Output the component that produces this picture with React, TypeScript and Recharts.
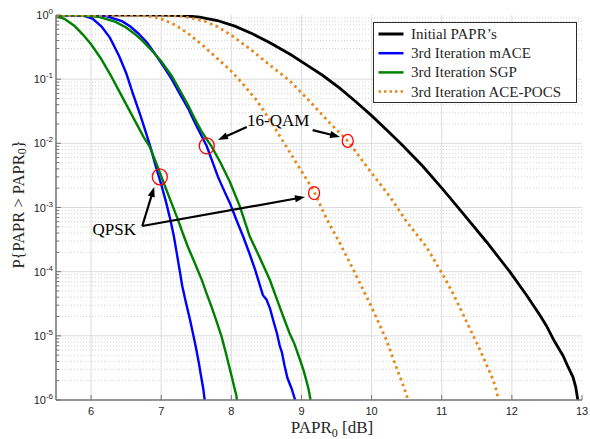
import React from 'react';
import { LineChart, Line, XAxis, YAxis, ReferenceLine, ReferenceDot, Legend } from 'recharts';

type Pt = { x: number; y: number };
const pts = (a: number[][]): Pt[] => a.map(([x, y]) => ({ x, y }));

// ---------- data (x = PAPR0 [dB], y = CCDF) ----------
const initialPapr = pts([[5.5,1],[7.0,0.996],[7.3,0.978],[7.55,0.93],[7.8,0.82],[8.05,0.67],[8.3,0.51],[8.55,0.37],[8.85,0.24],[9.1,0.16],[9.3,0.115],[9.55,0.072],[9.78,0.044],[10.0,0.027],[10.26,0.0145],[10.44,0.0093],[10.73,0.0044],[11.02,0.0019],[11.3,8.2e-4],[11.64,2.9e-4],[11.97,1.0e-4],[12.21,4.3e-5],[12.4,2.1e-5],[12.49,1.45e-5],[12.6,8.5e-6],[12.73,4.9e-6],[12.8,3.3e-6],[12.87,2.3e-6],[12.91,1.6e-6],[12.94,1e-6]]);

const qpskMace = pts([[5.5,1],[5.75,0.995],[5.9,0.97],[6.02,0.88],[6.15,0.66],[6.27,0.44],[6.4,0.23],[6.5,0.125],[6.6,0.058],[6.7,0.028],[6.78,0.015],[6.85,0.0085],[6.92,0.0045],[7.0,0.0023],[7.07,0.0012],[7.13,6.5e-4],[7.18,3.6e-4],[7.22,2.0e-4],[7.26,1.1e-4],[7.3,6.0e-5],[7.35,3.4e-5],[7.41,1.8e-5],[7.46,1.0e-5],[7.5,6.2e-6],[7.54,3.6e-6],[7.57,2.3e-6],[7.6,1.5e-6],[7.62,1e-6]]);

const qpskSgp = pts([[5.5,0.96],[5.62,0.87],[5.76,0.68],[5.88,0.5],[6.0,0.35],[6.14,0.21],[6.28,0.115],[6.4,0.065],[6.52,0.037],[6.64,0.021],[6.75,0.0125],[6.84,0.0087],[6.95,0.0043],[7.05,0.0022],[7.15,0.00115],[7.24,6.4e-4],[7.31,3.9e-4],[7.38,2.45e-4],[7.48,1.35e-4],[7.58,7.4e-5],[7.64,4.8e-5],[7.7,3.2e-5],[7.78,1.8e-5],[7.86,9.8e-6],[7.92,5.5e-6],[7.98,3.0e-6],[8.02,2.0e-6],[8.05,1.45e-6],[8.07,1.2e-6],[8.08,1e-6]]);

const qamMace = pts([[5.5,1],[5.9,0.998],[6.2,0.97],[6.44,0.8],[6.56,0.66],[6.67,0.52],[6.8,0.37],[6.91,0.25],[7.03,0.16],[7.15,0.1],[7.27,0.058],[7.39,0.034],[7.48,0.021],[7.58,0.0128],[7.65,0.009],[7.73,0.0052],[7.81,0.003],[7.9,0.0018],[7.98,0.00117],[8.07,6.5e-4],[8.17,3.5e-4],[8.26,1.9e-4],[8.34,1.07e-4],[8.4,6.5e-5],[8.45,4.3e-5],[8.5,3.7e-5],[8.55,2.7e-5],[8.6,1.7e-5],[8.65,1.1e-5],[8.69,7.0e-6],[8.72,5.6e-6],[8.76,3.4e-6],[8.8,2.2e-6],[8.86,1.5e-6],[8.91,1e-6]]);

const qamSgp = pts([[5.5,1],[5.8,0.995],[6.1,0.94],[6.35,0.78],[6.5,0.64],[6.6,0.53],[6.72,0.41],[6.84,0.3],[7.0,0.19],[7.15,0.112],[7.27,0.066],[7.39,0.038],[7.48,0.024],[7.58,0.015],[7.65,0.0115],[7.72,0.0089],[7.85,0.0049],[7.98,0.0025],[8.12,0.00105],[8.26,3.6e-4],[8.4,1.7e-4],[8.55,7.4e-5],[8.65,3.7e-5],[8.74,2.0e-5],[8.83,1.1e-5],[8.9,7.5e-6],[8.98,4.2e-6],[9.03,2.9e-6],[9.07,2.0e-6],[9.1,1.5e-6],[9.13,1e-6]]);

const qpskAcePocs = pts([[5.5,1],[6.6,0.998],[6.8,0.97],[7.0,0.87],[7.2,0.7],[7.4,0.5],[7.6,0.33],[7.8,0.21],[7.98,0.14],[8.15,0.088],[8.36,0.047],[8.55,0.023],[8.72,0.0115],[8.93,0.0049],[9.17,0.00186],[9.36,6.6e-4],[9.55,2.75e-4],[9.74,1.07e-4],[10.0,2.8e-5],[10.21,8.7e-6],[10.35,3.3e-6],[10.45,1.7e-6],[10.52,1e-6]]);

const qamAcePocs = pts([[5.5,1],[7.0,0.998],[7.3,0.96],[7.62,0.8],[7.8,0.66],[7.98,0.5],[8.26,0.3],[8.55,0.165],[8.83,0.095],[9.12,0.045],[9.4,0.021],[9.67,0.0106],[9.97,0.0038],[10.26,0.00148],[10.5,6.0e-4],[10.78,2.45e-4],[11.02,8.8e-5],[11.16,4.6e-5],[11.35,1.7e-5],[11.54,6.2e-6],[11.73,2.1e-6],[11.78,1.4e-6],[11.81,1e-6]]);

const xTicks = [6, 7, 8, 9, 10, 11, 12, 13];
const yMajor = [1e-6, 1e-5, 1e-4, 1e-3, 1e-2, 1e-1, 1];
const yMinor: number[] = [];
for (let e = -6; e < 0; e++) for (let k = 2; k <= 9; k++) yMinor.push(k * Math.pow(10, e));
const yAll = [...yMajor, ...yMinor].sort((a, b) => a - b);

const seriesNames = ['Initial PAPR\u2019s', '3rd Iteration mACE', '3rd Iteration SGP', '3rd Iteration ACE-POCS'];

// annotations (data coordinates)
const circlePts = [
  { x: 6.98, y: 0.003, big: true },
  { x: 7.65, y: 0.0091, big: true },
  { x: 9.18, y: 0.00168, big: false },
  { x: 9.66, y: 0.0109, big: false },
];
const arrowSegs = [
  [{ x: 8.22, y: 0.018 }, { x: 7.81, y: 0.0113 }],
  [{ x: 9.16, y: 0.0161 }, { x: 9.55, y: 0.0126 }],
  [{ x: 6.73, y: 5.15e-4 }, { x: 6.9, y: 2.09e-3 }],
  [{ x: 6.73, y: 5.15e-4 }, { x: 9.05, y: 1.46e-3 }],
];
const textLabels = [
  { x: 8.668, y: 0.0223, text: '16-QAM' },
  { x: 6.33, y: 4.62e-4, text: 'QPSK' },
];

// ---------- styles ----------
const AXIS = '#737373';
const TICKTXT = '#262626';
const SANS = '"Liberation Sans", Arial, Helvetica, sans-serif';
const SERIF = '"Liberation Serif", "Times New Roman", serif';
const ORANGE = '#e5891c';
const COLORS = ['#000000', '#0000ff', '#008000', ORANGE];
const TM = 4;

const isMajorVal = (v: number) => Math.abs(Math.log10(v) - Math.round(Math.log10(v))) < 1e-6;

const BottomTick = (p: any) => {
  const axisY = p.y - TM;
  return (
    <g>
      <line x1={p.x} x2={p.x} y1={axisY} y2={axisY - 5} stroke={AXIS} strokeWidth={1} />
      <text x={p.x} y={axisY + 15} textAnchor="middle" fontSize={11} fill={TICKTXT} style={{ fontFamily: SANS }}>
        {p.payload.value}
      </text>
    </g>
  );
};
const TopTick = (p: any) => {
  const axisY = p.y + TM;
  return <line x1={p.x} x2={p.x} y1={axisY} y2={axisY + 5} stroke={AXIS} strokeWidth={1} />;
};
const LeftTick = (p: any) => {
  const ax = p.x + TM;
  const v = p.payload.value;
  const major = isMajorVal(v);
  const e = Math.round(Math.log10(v));
  return (
    <g>
      <line x1={ax} x2={ax + (major ? 5 : 3)} y1={p.y} y2={p.y} stroke={AXIS} strokeWidth={1} />
      {major && (
        <text x={ax - 3} y={p.y + 4} textAnchor="end" fontSize={11} fill={TICKTXT} style={{ fontFamily: SANS }}>
          10<tspan dy={-5} fontSize={8}>{e}</tspan>
        </text>
      )}
    </g>
  );
};
const RightTick = (p: any) => {
  const ax = p.x - TM;
  const major = isMajorVal(p.payload.value);
  return <line x1={ax} x2={ax - (major ? 5 : 3)} y1={p.y} y2={p.y} stroke={AXIS} strokeWidth={1} />;
};

const XLabel = (p: any) => {
  const vb = p.viewBox || { x: 56, y: 400, width: 526, height: 39 };
  return (
    <text x={vb.x + vb.width / 2 + 13} y={vb.y + 33} textAnchor="middle" fontSize={17} style={{ fontFamily: SERIF }} fill="#262626">
      PAPR<tspan fontSize={12} dy={4}>0</tspan><tspan dy={-4}> [dB]</tspan>
    </text>
  );
};
const YLabel = (p: any) => {
  const vb = p.viewBox || { x: 0, y: 15, width: 56, height: 385 };
  const cx = vb.x + 18;
  const cy = vb.y + vb.height / 2 - 3;
  return (
    <text x={cx} y={cy} transform={`rotate(-90 ${cx} ${cy})`} textAnchor="middle" dominantBaseline="central" fontSize={16.5} style={{ fontFamily: SERIF }} fill="#262626">
      P{'{'}PAPR {'>'} PAPR<tspan fontSize={12} dy={4}>0</tspan><tspan dy={-4}>{'}'}</tspan>
    </text>
  );
};

const ArrowShape = (p: any) => {
  const { x1, y1, x2, y2 } = p;
  const dx = x2 - x1, dy = y2 - y1;
  const L = Math.hypot(dx, dy) || 1;
  const ux = dx / L, uy = dy / L;
  const hl = 10, hw = 3.6;
  const bx = x2 - ux * hl, by = y2 - uy * hl;
  return (
    <g>
      <line x1={x1} y1={y1} x2={bx + ux * 1} y2={by + uy * 1} stroke="#000" strokeWidth={2.2} />
      <polygon points={`${x2},${y2} ${bx - uy * hw},${by + ux * hw} ${bx + uy * hw},${by - ux * hw}`} fill="#000" />
    </g>
  );
};

const LegendBox = () => (
  <div style={{ width: 204, height: 81, border: '1.3px solid #2b2b2b', background: '#fff', boxSizing: 'border-box', fontFamily: SERIF }}>
    <svg width={202} height={79} style={{ display: 'block' }}>
      {seriesNames.map((n, i) => {
        const cy = 11 + i * 19.2;
        return (
          <g key={n}>
            <line x1={4.5} x2={29.5} y1={cy} y2={cy} stroke={COLORS[i]} strokeWidth={i === 0 ? 3 : 2.5} strokeDasharray={i === 3 ? '2.5 3' : undefined} />
            <text x={37} y={cy + 5} fontSize={15} style={{ fontFamily: SERIF }} fill="#262626">{n}</text>
          </g>
        );
      })}
    </svg>
  </div>
);

export default function App() {
  const lineCommon = { type: 'linear' as const, dataKey: 'y', dot: false, activeDot: false, isAnimationActive: false };
  return (
    <div style={{ position: 'absolute', left: 0, top: 0, width: 590, height: 439, background: '#fff' }}>
      <LineChart width={590} height={439} margin={{ top: 15, right: 8, left: 0, bottom: 0 }}>
        <XAxis xAxisId={0} dataKey="x" type="number" domain={[5.5, 13]} allowDataOverflow ticks={xTicks} interval={0}
          height={39} tickSize={0} tickMargin={TM} tick={<BottomTick />} axisLine={{ stroke: AXIS, strokeWidth: 1.5 }} label={<XLabel />} />
        <XAxis xAxisId="top" orientation="top" dataKey="x" type="number" domain={[5.5, 13]} allowDataOverflow ticks={xTicks} interval={0}
          height={0} tickSize={0} tickMargin={TM} tick={<TopTick />} axisLine={{ stroke: AXIS, strokeWidth: 1.5 }} />
        <YAxis yAxisId={0} type="number" scale="log" domain={[1e-6, 1]} allowDataOverflow ticks={yAll} interval={0}
          width={56} tickSize={0} tickMargin={TM} tick={<LeftTick />} axisLine={{ stroke: AXIS, strokeWidth: 1.5 }} label={<YLabel />} />
        <YAxis yAxisId="right" orientation="right" type="number" scale="log" domain={[1e-6, 1]} allowDataOverflow ticks={yAll} interval={0}
          width={0} tickSize={0} tickMargin={TM} tick={<RightTick />} axisLine={{ stroke: AXIS, strokeWidth: 1.5 }} />

        {yMinor.map((v) => (
          <ReferenceLine key={'mn' + v} y={v} stroke="#c8c8c8" strokeWidth={0.8} strokeDasharray="1 2" />
        ))}
        {yMajor.slice(1, 6).map((v) => (
          <ReferenceLine key={'mj' + v} y={v} stroke="#dcdcdc" strokeWidth={1} />
        ))}
        {xTicks.slice(0, 7).map((v) => (
          <ReferenceLine key={'vx' + v} x={v} stroke="#dcdcdc" strokeWidth={1} />
        ))}

        <Line {...lineCommon} data={initialPapr} name={seriesNames[0]} stroke={COLORS[0]} strokeWidth={2.8} />
        <Line {...lineCommon} data={qpskMace} name={seriesNames[1]} stroke={COLORS[1]} strokeWidth={2.4} />
        <Line {...lineCommon} data={qamMace} name={seriesNames[1] + ' 16QAM'} stroke={COLORS[1]} strokeWidth={2.4} legendType="none" />
        <Line {...lineCommon} data={qpskSgp} name={seriesNames[2]} stroke={COLORS[2]} strokeWidth={2.4} />
        <Line {...lineCommon} data={qamSgp} name={seriesNames[2] + ' 16QAM'} stroke={COLORS[2]} strokeWidth={2.4} legendType="none" />
        <Line {...lineCommon} data={qpskAcePocs} name={seriesNames[3]} stroke={COLORS[3]} strokeWidth={2.8} strokeDasharray="2.6 3.6" />
        <Line {...lineCommon} data={qamAcePocs} name={seriesNames[3] + ' 16QAM'} stroke={COLORS[3]} strokeWidth={2.8} strokeDasharray="2.6 3.6" legendType="none" />

        {circlePts.map((c, i) => (
          <ReferenceDot key={'c' + i} x={c.x} y={c.y} r={8}
            shape={(p: any) => <ellipse cx={p.cx} cy={p.cy} rx={c.big ? 7.5 : 5.5} ry={c.big ? 8 : 6.5} fill="none" stroke="#ff0000" strokeWidth={1.3} />} />
        ))}
        {arrowSegs.map((s, i) => (
          <ReferenceLine key={'a' + i} segment={s} shape={(p: any) => <ArrowShape {...p} />} />
        ))}
        {textLabels.map((t, i) => (
          <ReferenceDot key={'t' + i} x={t.x} y={t.y} r={1}
            shape={(p: any) => (
              <text x={p.cx} y={p.cy} textAnchor="middle" dominantBaseline="central" fontSize={17} style={{ fontFamily: SERIF }} fill="#000">{t.text}</text>
            )} />
        ))}

        <Legend layout="vertical" align="center" verticalAlign="middle" content={() => <LegendBox />}
          wrapperStyle={{ position: 'absolute', left: 373, top: 22, width: 204, height: 81 }} />
      </LineChart>
    </div>
  );
}
